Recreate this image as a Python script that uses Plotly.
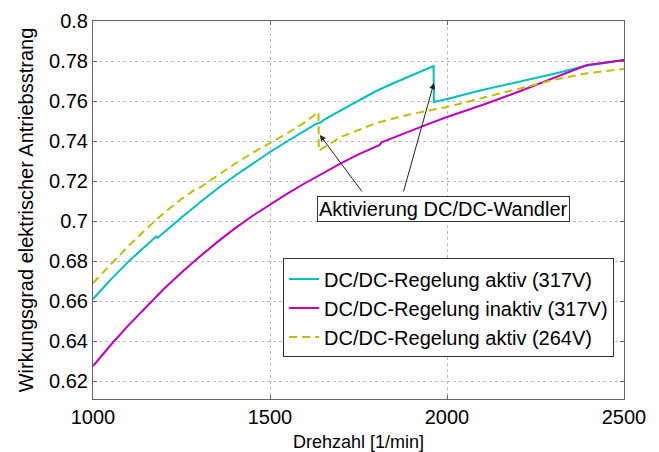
import plotly.graph_objects as go

# Data
x_aktiv317 = [1000, 1050, 1100, 1150, 1178, 1182, 1200, 1250, 1300, 1350, 1400, 1450, 1500,
              1550, 1600, 1630, 1642, 1650, 1700, 1750, 1800, 1850, 1900, 1962, 1963,
              2000, 2100, 2200, 2300, 2390, 2450, 2500]
y_aktiv317 = [0.6610, 0.6707, 0.6797, 0.6880, 0.6922, 0.6915, 0.6943, 0.7018, 0.7090, 0.7160,
              0.7225, 0.7287, 0.7345, 0.7400, 0.7453, 0.7485, 0.7492, 0.7503, 0.7553, 0.7603,
              0.7650, 0.7690, 0.7728, 0.7775, 0.7595, 0.7610, 0.7655, 0.7695, 0.7735, 0.7775,
              0.7790, 0.7805]

x_inaktiv317 = [1000, 1050, 1100, 1150, 1200, 1250, 1300, 1350, 1400, 1450, 1500, 1550, 1600,
                1650, 1700, 1750, 1800, 1810, 1815, 1850, 1900, 1950, 2000, 2050, 2100, 2200,
                2300, 2395, 2450, 2500]
y_inaktiv317 = [0.6275, 0.6380, 0.6478, 0.6570, 0.6660, 0.6742, 0.6820, 0.6893, 0.6962, 0.7025,
                0.7083, 0.7138, 0.7190, 0.7240, 0.7288, 0.7333, 0.7375, 0.7380, 0.7393, 0.7418,
                0.7452, 0.7487, 0.7520, 0.7550, 0.7580, 0.7645, 0.7713, 0.7780, 0.7793, 0.7805]

x_aktiv264 = [1000, 1050, 1100, 1150, 1200, 1250, 1290, 1300, 1350, 1400, 1450, 1500, 1550,
              1600, 1637, 1638, 1650, 1700, 1750, 1800, 1900, 2000, 2100, 2200, 2300, 2400,
              2450, 2500]
y_aktiv264 = [0.6690, 0.6785, 0.6875, 0.6960, 0.7040, 0.7110, 0.7160, 0.7165, 0.7225, 0.7285,
              0.7340, 0.7390, 0.7440, 0.7495, 0.7545, 0.7350, 0.7365, 0.7420, 0.7455, 0.7490,
              0.7535, 0.7570, 0.7615, 0.7660, 0.7705, 0.7740, 0.7750, 0.7760]

names = ["DC/DC-Regelung aktiv (317V)", "DC/DC-Regelung inaktiv (317V)", "DC/DC-Regelung aktiv (264V)"]

x_ticks = [1000, 1500, 2000, 2500]
y_ticks = [0.62, 0.64, 0.66, 0.68, 0.70, 0.72, 0.74, 0.76, 0.78, 0.80]
y_ticklabels = ["0.62", "0.64", "0.66", "0.68", "0.7", "0.72", "0.74", "0.76", "0.78", "0.8"]

annot_text = "Aktivierung DC/DC-Wandler"
annot_pos = (1989, 0.706)
arrow_heads = [(1641, 0.743), (1963, 0.769)]
arrow_tails = [(1763, 0.714), (1876, 0.714)]

FONT = "Liberation Sans, Arial, sans-serif"

fig = go.Figure()
fig.add_trace(go.Scatter(x=x_aktiv317, y=y_aktiv317, mode="lines", name=names[0],
                         line=dict(color="#00BFBF", width=2)))
fig.add_trace(go.Scatter(x=x_inaktiv317, y=y_inaktiv317, mode="lines", name=names[1],
                         line=dict(color="#BF00BF", width=2)))
fig.add_trace(go.Scatter(x=x_aktiv264, y=y_aktiv264, mode="lines", name=names[2],
                         line=dict(color="#BFBF00", width=2, dash="8px,5px")))

for (hx, hy), (tx, ty) in zip(arrow_heads, arrow_tails):
    fig.add_annotation(x=hx, y=hy, ax=tx, ay=ty, axref="x", ayref="y", xref="x", yref="y",
                       text="", showarrow=True, arrowhead=2, arrowsize=1.2, arrowwidth=1,
                       arrowcolor="#222222", standoff=0, startstandoff=0)

fig.add_annotation(x=annot_pos[0], y=annot_pos[1], xref="x", yref="y", text=annot_text,
                   showarrow=False, font=dict(family=FONT, size=20, color="black"),
                   bgcolor="white", bordercolor="#333333", borderwidth=1, borderpad=1)

axis_common = dict(showline=True, linecolor="#666666", linewidth=1, mirror="ticks",
                   ticks="inside", ticklen=4, tickcolor="#666666",
                   showgrid=True, gridcolor="#BBBBBB", griddash="dot", gridwidth=1,
                   zeroline=False, tickfont=dict(family=FONT, size=20, color="black"))

fig.update_xaxes(range=[1000, 2500], tickvals=x_ticks, ticktext=[str(v) for v in x_ticks],
                 title=dict(text="Drehzahl [1/min]", font=dict(family=FONT, size=18, color="black"),
                            standoff=9),
                 **axis_common)
fig.update_yaxes(range=[0.611, 0.8], tickvals=y_ticks, ticktext=y_ticklabels,
                 title=dict(text="Wirkungsgrad elektrischer Antriebsstrang",
                            font=dict(family=FONT, size=20, color="black"), standoff=10),
                 **axis_common)

fig.update_layout(
    width=659, height=452,
    margin=dict(l=93, r=35, t=21, b=53, autoexpand=False),
    paper_bgcolor="white", plot_bgcolor="white",
    font=dict(family=FONT, color="black"),
    legend=dict(x=0.358, y=0.372, xanchor="left", yanchor="top",
                bgcolor="white", bordercolor="#333333", borderwidth=1,
                font=dict(family=FONT, size=20, color="black"),
                itemwidth=30, tracegroupgap=0),
    showlegend=True,
)

fig.write_html("out.html")
